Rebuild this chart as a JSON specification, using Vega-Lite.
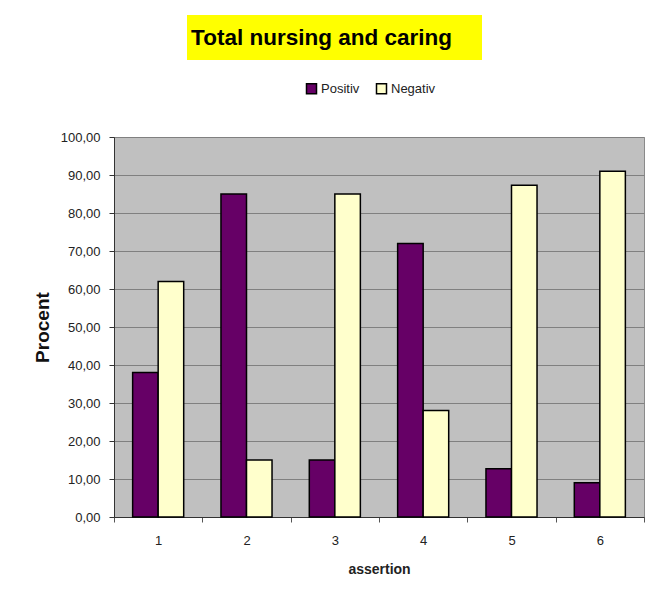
{
  "$schema": "https://vega.github.io/schema/vega-lite/v6.json",
  "background": "white",
  "padding": {"left": 32, "top": 15, "right": 5, "bottom": 5},
  "bounds": "flush",
  "spacing": 122,
  "config": {
    "font": "Liberation Sans",
    "view": {"stroke": null}
  },
  "vconcat": [
    {
      "bounds": "flush",
      "spacing": 0,
      "hconcat": [
        {
          "width": 73,
          "height": 45,
          "data": {"values": []},
          "mark": {"type": "text"}
        },
        {
          "width": 295,
          "height": 45,
          "view": {"fill": "#FFFF00", "stroke": null},
          "data": {"values": [{"heading": "Total nursing and caring"}]},
          "mark": {"type": "text", "fontSize": 22.5, "fontWeight": "bold", "color": "black", "dx": -13, "baseline": "middle"},
          "encoding": {"text": {"field": "heading"}}
        }
      ]
    },
    {
      "width": 530,
      "height": 380,
      "view": {"fill": "#C0C0C0", "stroke": "#8A8A8A", "strokeWidth": 1},
      "data": {
        "values": [
          {"assertion": "1", "response": "Positiv", "percent": 38},
          {"assertion": "1", "response": "Negativ", "percent": 62},
          {"assertion": "2", "response": "Positiv", "percent": 85},
          {"assertion": "2", "response": "Negativ", "percent": 15},
          {"assertion": "3", "response": "Positiv", "percent": 15},
          {"assertion": "3", "response": "Negativ", "percent": 85},
          {"assertion": "4", "response": "Positiv", "percent": 72},
          {"assertion": "4", "response": "Negativ", "percent": 28},
          {"assertion": "5", "response": "Positiv", "percent": 12.7},
          {"assertion": "5", "response": "Negativ", "percent": 87.3},
          {"assertion": "6", "response": "Positiv", "percent": 9},
          {"assertion": "6", "response": "Negativ", "percent": 91}
        ]
      },
      "mark": {"type": "bar", "stroke": "black", "strokeWidth": 1.5},
      "encoding": {
        "x": {
          "field": "assertion",
          "type": "ordinal",
          "scale": {"paddingInner": 0, "paddingOuter": 0},
          "axis": {
            "title": "assertion",
            "titleFontSize": 14,
            "titleFontWeight": "bold",
            "titleColor": "#222",
            "titlePadding": 15,
            "labelAngle": 0,
            "labelFontSize": 13,
            "labelColor": "#222",
            "labelPadding": 12,
            "tickBand": "extent",
            "tickSize": 5,
            "tickColor": "#555",
            "domainColor": "#333",
            "grid": false
          }
        },
        "xOffset": {
          "field": "response",
          "type": "nominal",
          "sort": ["Positiv", "Negativ"],
          "scale": {"paddingInner": 0, "paddingOuter": 0.73}
        },
        "y": {
          "field": "percent",
          "type": "quantitative",
          "scale": {"domain": [0, 100]},
          "axis": {
            "title": "Procent",
            "titleFontSize": 19,
            "titleFontWeight": "bold",
            "titleColor": "#111",
            "titlePadding": 8,
            "values": [0, 10, 20, 30, 40, 50, 60, 70, 80, 90, 100],
            "labelExpr": "replace(format(datum.value, '.2f'), '.', ',')",
            "labelFontSize": 13,
            "labelColor": "#222",
            "labelPadding": 9,
            "tickSize": 5,
            "tickColor": "#333",
            "domainColor": "#333",
            "grid": true,
            "gridColor": "#808080",
            "gridWidth": 1
          }
        },
        "color": {
          "field": "response",
          "type": "nominal",
          "scale": {"domain": ["Positiv", "Negativ"], "range": ["#660066", "#FFFFCC"]},
          "legend": {
            "title": null,
            "orient": "none",
            "direction": "horizontal",
            "legendX": 191,
            "legendY": -55,
            "symbolType": "square",
            "symbolSize": 100,
            "symbolStrokeColor": "black",
            "symbolStrokeWidth": 1.5,
            "symbolOpacity": 1,
            "labelFontSize": 13,
            "labelColor": "#222",
            "labelOffset": 3,
            "columnPadding": 13
          }
        }
      }
    }
  ],
  "resolve": {"scale": {"color": "independent"}}
}
